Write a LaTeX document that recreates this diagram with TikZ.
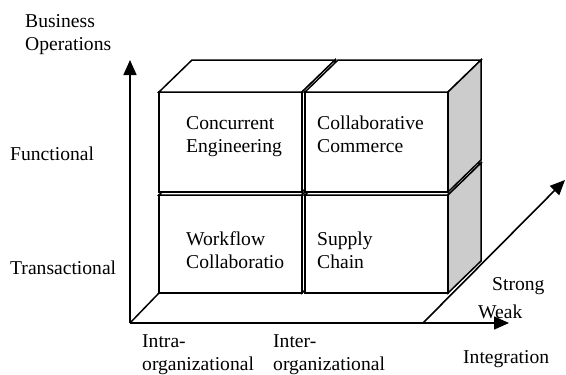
\documentclass[tikz,border=0pt]{standalone}
\usepackage{fontspec}
\setmainfont{Liberation Serif}
\usetikzlibrary{arrows.meta, positioning}
\tikzset{%
	axis/.style={
		line width=1.6pt,
		-{Triangle[length=15pt, width=13pt]}
	},
	edge/.style={
		line width=1.5pt,
		line join=miter
	},
	label/.style={
		anchor=base west,
		inner sep=0pt,
		align=left,
		font=\fontsize{19.6}{22.8}\selectfont
	},
}
% one cube: front corner x, y, height, colour of right face
\newcommand{\drawcube}[4]{%
	\draw[edge, fill=white] (#1,#2) rectangle (#1+143,#2+#3);
	\draw[edge, fill=white] (#1,#2) -- (#1+33,#2-32) -- (#1+176,#2-32) -- (#1+143,#2) -- cycle;
	\draw[edge, fill=#4] (#1+143,#2) -- (#1+176,#2-32) -- (#1+176,#2+#3-32) -- (#1+143,#2+#3) -- cycle;
}

\begin{document}
\begin{tikzpicture}[x=1pt, y=-1pt]
	\useasboundingbox (0,0) rectangle (566,375);
	
	% Axes
	\coordinate (O) at (130,323);
	\coordinate (ytop) at (130,60);
	\coordinate (xend) at (509,323);
	\coordinate (zstart) at (423,323);
	\coordinate (zend) at (565,180);
	\coordinate (floor) at (159,293);
	\draw[axis] (O) -- (ytop);
	\draw[axis] (O) -- (xend);
	\draw[axis] (zstart) -- (zend);
	\draw[edge] (O) -- (floor);
	
	% Cubes, bottom row first
	\drawcube{159}{195}{98}{white}
	\drawcube{305}{195}{98}{black!20}
	\drawcube{159}{92}{100}{white}
	\drawcube{305}{92}{100}{black!20}
	
	% Texts in the cubes (base = last line)
	\node[label] (ce) at (186,152) {Concurrent\\Engineering};
	\node[label] (cc) at (317,152) {Collaborative\\Commerce};
	\node[label] (wc) at (186,268) {Workflow\\Collaboratio};
	\node[label] (sc) at (317,268) {Supply\\Chain};
	
	% Axis labels
	\node[label] (bo) at (25,50) {Business\\Operations};
	\node[label] (fu) at (10,160) {Functional};
	\node[label] (tr) at (10,274) {Transactional};
	\node[label] (intra) at (142,370) {Intra-\\organizational};
	\node[label] (inter) at (273,370) {Inter-\\organizational};
	\node[label] (integ) at (463,363) {Integration};
	\node[label] (strong) at (492,290) {Strong};
	\node[label] (weak) at (478,318) {Weak};
	
\end{tikzpicture}
\end{document}
